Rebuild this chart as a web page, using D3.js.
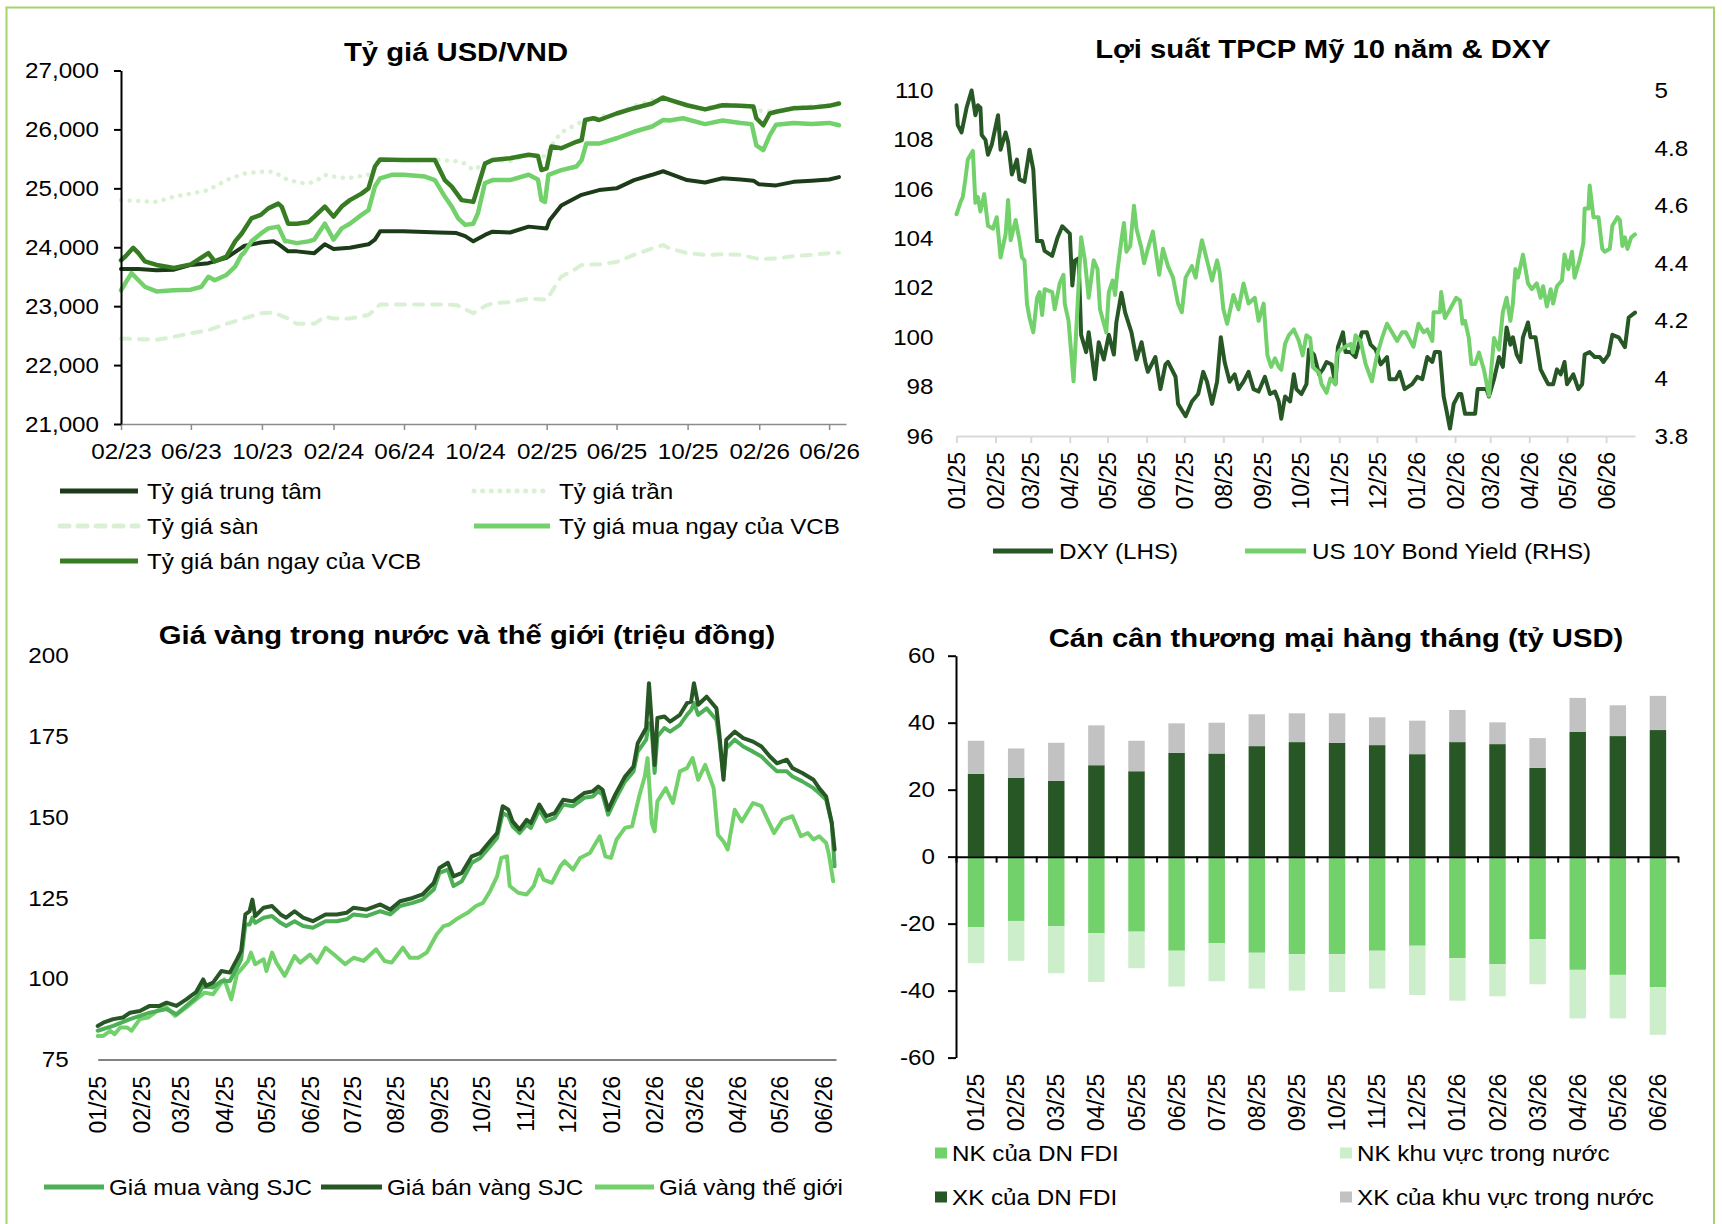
<!DOCTYPE html>
<html>
<head>
<meta charset="utf-8">
<script src="https://cdn.jsdelivr.net/npm/d3@7"></script>
<style>
body { margin: 0; background: #fff; }
svg text { font-family: "Liberation Sans", Arial, sans-serif; fill: #000; }
</style>
</head>
<body>
<svg id="chart" width="1722" height="1224"></svg>
<script>
// ---- data: [days since series start, value] ----
// USD/VND, days since 01/02/2023
const centralRate = [[0,23630],[30,23630],[61,23610],[91,23620],[120,23700],[150,23730],[181,23820],[211,24020],[240,24080],[262,24100],[271,24050],[287,23930],[302,23930],[332,23900],[350,24050],[365,23970],[393,23990],[425,24050],[436,24130],[445,24270],[454,24270],[485,24270],[546,24250],[576,24240],[591,24190],[605,24100],[625,24210],[638,24265],[668,24250],[700,24350],[731,24320],[736,24460],[756,24710],[791,24890],[821,24970],[851,25000],[881,25140],[912,25230],[931,25290],[942,25250],[972,25140],[1003,25100],[1033,25170],[1064,25150],[1086,25130],[1095,25070],[1125,25050],[1155,25110],[1186,25130],[1216,25150],[1233,25190]]
const ceilRate = [[0,24800],[61,24770],[91,24860],[120,24910],[150,24970],[181,25140],[211,25250],[240,25280],[262,25280],[287,25140],[316,25080],[333,25110],[350,25230],[365,25200],[390,25170],[425,25230],[436,25340],[445,25480],[485,25480],[546,25480],[576,25460],[591,25420],[605,25310],[625,25420],[638,25480],[668,25460],[700,25570],[731,25540],[736,25680],[756,25950],[791,26130],[821,26220],[851,26250],[881,26400],[912,26490],[931,26555],[942,26510],[972,26400],[1003,26355],[1033,26430],[1064,26410],[1095,26320],[1125,26300],[1155,26370],[1186,26390],[1216,26410],[1233,26450]]
const floorRate = [[0,22450],[61,22430],[91,22480],[120,22540],[150,22590],[181,22700],[211,22790],[240,22880],[262,22890],[287,22790],[302,22700],[332,22700],[350,22820],[365,22790],[393,22790],[425,22850],[445,23030],[485,23030],[546,23030],[576,23020],[605,22880],[625,23000],[638,23050],[668,23070],[700,23130],[731,23110],[756,23500],[782,23640],[791,23700],[821,23710],[851,23750],[881,23870],[912,23980],[931,24040],[942,23980],[972,23900],[1003,23870],[1033,23880],[1064,23870],[1095,23800],[1125,23810],[1155,23850],[1186,23870],[1216,23900],[1233,23910]]
const vcbBuy = [[0,23270],[18,23560],[30,23440],[41,23330],[61,23250],[91,23270],[120,23280],[138,23330],[150,23500],[161,23440],[181,23530],[196,23670],[207,23870],[211,23900],[224,24100],[240,24230],[253,24320],[270,24350],[282,24100],[287,24100],[302,24070],[322,24100],[332,24130],[350,24400],[365,24130],[379,24320],[393,24400],[413,24550],[425,24630],[436,25030],[445,25170],[465,25230],[485,25230],[522,25200],[539,25140],[556,24860],[568,24690],[579,24490],[591,24380],[605,24400],[613,24580],[625,25090],[638,25140],[668,25140],[700,25230],[716,25150],[722,24800],[728,24770],[734,25230],[756,25310],[782,25370],[791,25480],[799,25760],[821,25760],[851,25850],[881,25960],[912,26050],[931,26160],[942,26150],[965,26190],[1003,26090],[1033,26150],[1064,26110],[1083,26090],[1091,25730],[1103,25650],[1114,25900],[1125,26080],[1155,26110],[1186,26090],[1216,26110],[1233,26070]]
const vcbSell = [[0,23780],[7,23840],[21,23990],[30,23900],[41,23760],[61,23700],[91,23650],[120,23710],[150,23900],[161,23760],[181,23840],[196,24100],[207,24230],[211,24290],[224,24490],[240,24550],[253,24660],[270,24740],[276,24690],[282,24530],[287,24400],[302,24400],[322,24430],[332,24520],[350,24690],[365,24520],[379,24690],[393,24800],[413,24910],[425,25000],[436,25370],[445,25490],[485,25480],[539,25480],[556,25140],[568,25030],[585,24800],[605,24770],[613,25030],[625,25420],[638,25480],[668,25510],[700,25570],[716,25550],[722,25310],[731,25340],[739,25710],[756,25680],[782,25790],[791,25820],[797,26160],[811,26190],[821,26160],[851,26270],[881,26360],[912,26440],[931,26540],[942,26500],[972,26410],[1003,26340],[1033,26410],[1064,26400],[1086,26390],[1091,26190],[1103,26070],[1114,26270],[1125,26300],[1155,26360],[1186,26370],[1216,26400],[1233,26440]]
const rateTickLabels = ["02/23","06/23","10/23","02/24","06/24","10/24","02/25","06/25","10/25","02/26","06/26"]
const rateTicks = [21000,22000,23000,24000,25000,26000,27000]

// DXY & US 10Y, days since 01/01/2025
const dxy = [[0,109.4],[1,108.6],[4,108.3],[8,109.3],[12,110.0],[15,109.0],[17,109.4],[19,109.3],[20,108.2],[23,108.0],[25,107.4],[28,107.8],[33,109.0],[35,107.6],[39,108.3],[41,107.9],[44,106.6],[48,107.2],[50,106.4],[54,106.3],[58,107.6],[61,106.8],[64,103.9],[68,103.9],[70,103.5],[76,103.3],[80,104.0],[84,104.5],[88,104.3],[90,104.2],[92,102.1],[94,103.1],[97,103.2],[99,100.1],[103,99.4],[105,100.2],[110,98.3],[113,99.8],[117,99.1],[121,100.1],[125,99.3],[127,100.6],[131,101.8],[134,101.0],[139,100.2],[143,99.1],[147,99.8],[150,99.0],[152,98.6],[158,99.2],[162,97.9],[166,98.9],[168,99.0],[174,98.4],[176,97.3],[182,96.8],[187,97.4],[192,97.7],[196,98.6],[199,98.2],[203,97.3],[207,98.2],[210,100.0],[213,99.0],[217,98.2],[221,98.5],[224,97.9],[228,98.2],[232,98.6],[236,97.9],[240,97.8],[245,98.4],[249,97.7],[253,97.8],[256,97.4],[258,96.7],[261,97.6],[265,97.4],[268,98.5],[270,97.9],[274,97.7],[278,98.1],[280,99.5],[284,99.3],[288,98.5],[291,98.7],[294,99.0],[298,98.9],[301,98.1],[303,99.6],[307,100.2],[309,99.4],[313,99.4],[317,99.2],[319,99.6],[322,100.2],[326,100.2],[329,99.7],[333,99.5],[337,98.9],[342,99.2],[344,98.3],[349,98.3],[352,98.6],[356,97.9],[362,98.1],[366,98.4],[370,98.3],[374,99.2],[378,99.0],[380,99.4],[384,99.4],[387,97.6],[389,97.1],[392,96.3],[395,97.3],[399,97.7],[401,97.7],[404,96.9],[408,96.9],[412,96.9],[414,97.9],[417,97.9],[421,97.9],[423,97.6],[427,98.3],[431,99.2],[434,98.8],[437,100.4],[440,99.7],[442,100.0],[445,99.3],[448,99.0],[450,100.0],[454,100.6],[456,100.0],[460,100.0],[464,98.7],[468,98.3],[470,98.1],[474,98.1],[477,98.7],[480,98.5],[483,99.0],[485,98.1],[490,98.5],[494,97.9],[497,98.1],[499,99.3],[503,99.4],[507,99.2],[511,99.2],[514,99.0],[518,99.3],[521,100.1],[526,100.0],[531,99.6],[534,100.8],[539,101.0]]
const us10y = [[0,4.57],[3,4.61],[5,4.63],[7,4.69],[9,4.76],[13,4.79],[15,4.61],[17,4.63],[19,4.58],[22,4.64],[25,4.53],[29,4.52],[32,4.56],[35,4.42],[39,4.50],[41,4.62],[43,4.48],[47,4.55],[50,4.48],[52,4.42],[54,4.41],[56,4.26],[58,4.21],[61,4.16],[64,4.28],[66,4.30],[68,4.22],[70,4.31],[76,4.30],[78,4.24],[82,4.33],[85,4.36],[86,4.26],[89,4.20],[93,3.99],[96,4.24],[99,4.49],[102,4.41],[105,4.28],[109,4.41],[112,4.38],[114,4.24],[119,4.16],[121,4.30],[124,4.34],[126,4.29],[128,4.38],[131,4.48],[133,4.54],[135,4.44],[138,4.46],[141,4.60],[143,4.52],[147,4.45],[149,4.40],[152,4.45],[156,4.51],[161,4.36],[164,4.45],[168,4.39],[172,4.35],[176,4.26],[179,4.23],[182,4.35],[187,4.39],[190,4.35],[192,4.41],[195,4.48],[199,4.41],[203,4.34],[207,4.41],[209,4.37],[212,4.24],[215,4.19],[220,4.29],[224,4.24],[228,4.33],[232,4.26],[237,4.28],[240,4.20],[244,4.26],[247,4.08],[250,4.04],[253,4.07],[256,4.04],[258,4.03],[261,4.12],[264,4.15],[268,4.17],[272,4.13],[275,4.08],[278,4.15],[281,4.14],[283,4.04],[288,4.02],[290,3.98],[294,3.95],[297,4.00],[301,3.98],[302,4.08],[305,4.10],[309,4.11],[313,4.12],[315,4.09],[317,4.15],[321,4.13],[325,4.05],[330,3.99],[334,4.08],[338,4.14],[342,4.19],[346,4.16],[350,4.13],[354,4.16],[357,4.16],[363,4.11],[367,4.19],[371,4.16],[374,4.17],[378,4.13],[379,4.23],[384,4.23],[385,4.30],[388,4.21],[392,4.24],[397,4.28],[400,4.27],[402,4.19],[404,4.20],[407,4.14],[409,4.05],[412,4.05],[415,4.09],[419,4.03],[423,3.94],[427,4.14],[431,4.10],[434,4.23],[437,4.28],[440,4.20],[442,4.26],[444,4.38],[446,4.35],[450,4.43],[454,4.33],[457,4.31],[461,4.33],[464,4.28],[466,4.32],[469,4.25],[472,4.31],[474,4.26],[477,4.32],[481,4.34],[483,4.43],[486,4.38],[489,4.44],[491,4.35],[495,4.41],[498,4.47],[499,4.59],[502,4.59],[503,4.67],[506,4.56],[510,4.56],[513,4.45],[515,4.44],[519,4.45],[521,4.53],[525,4.56],[527,4.55],[529,4.46],[531,4.49],[533,4.45],[536,4.49],[539,4.50]]
const dxyTicks = [96,98,100,102,104,106,108,110]
const yieldTicks = [3.8,4,4.2,4.4,4.6,4.8,5]

// gold (million VND), days since 01/01/2025
const goldBuy = [[0,83.9],[11,85.4],[23,87.5],[37,89.5],[49,90.6],[56,89.0],[63,91.6],[70,94.2],[75,97.8],[82,97.3],[88,99.3],[94,99.3],[99,103.4],[102,106.0],[105,116.8],[108,116.8],[110,118.9],[112,117.3],[118,118.9],[124,119.4],[130,117.3],[134,116.3],[140,117.8],[146,116.3],[153,115.8],[162,117.8],[170,117.8],[177,118.4],[182,119.9],[191,119.4],[201,120.9],[208,119.9],[215,122.5],[224,123.5],[231,124.5],[239,127.6],[243,132.8],[249,133.8],[253,128.7],[259,130.2],[266,135.9],[272,137.4],[280,141.5],[284,143.6],[288,151.3],[292,150.3],[295,147.2],[300,145.1],[305,147.7],[308,146.7],[314,152.3],[319,148.7],[325,149.8],[331,153.9],[338,153.4],[346,156.0],[352,156.4],[356,158.0],[359,157.0],[363,150.8],[368,155.4],[375,161.1],[381,164.2],[384,170.3],[390,174.0],[392,179.1],[394,177.0],[396,163.7],[398,175.0],[403,177.6],[407,176.5],[414,178.6],[419,181.7],[422,183.2],[424,185.3],[427,181.7],[433,183.7],[440,180.1],[442,174.0],[445,162.6],[447,171.4],[453,174.0],[459,171.9],[466,170.3],[472,168.8],[478,166.2],[483,164.2],[490,164.2],[494,162.6],[501,161.1],[509,159.0],[513,157.5],[518,155.4],[522,148.2],[524,134.8]]
const goldSell = [[0,85.4],[4,86.4],[11,87.5],[18,88.0],[23,89.5],[30,90.0],[37,91.6],[44,91.6],[49,92.6],[56,91.6],[63,93.6],[70,95.9],[75,99.8],[77,97.8],[82,98.8],[88,102.4],[94,101.9],[99,106.0],[102,108.6],[105,119.9],[108,120.9],[110,124.5],[112,119.4],[118,122.0],[124,122.5],[130,119.9],[134,118.9],[140,120.9],[146,118.9],[153,117.8],[162,119.9],[170,119.9],[177,120.4],[182,122.0],[191,121.4],[201,123.0],[208,121.4],[215,124.0],[224,125.0],[231,126.1],[239,129.7],[243,134.3],[249,135.9],[253,131.7],[259,132.8],[266,137.9],[272,138.9],[280,143.1],[284,145.1],[288,153.4],[292,152.3],[295,148.7],[300,146.2],[305,149.2],[308,148.2],[314,153.9],[319,150.3],[325,151.3],[331,155.4],[338,154.9],[346,157.5],[352,158.0],[356,159.5],[359,158.5],[363,152.3],[368,157.0],[375,162.6],[381,165.7],[384,172.9],[390,177.6],[392,191.5],[394,179.1],[396,166.2],[398,180.7],[403,181.2],[407,179.6],[414,181.7],[419,185.3],[422,185.8],[424,191.5],[427,184.8],[433,187.3],[440,183.7],[442,176.0],[445,161.6],[447,174.0],[453,176.5],[459,174.5],[466,173.4],[472,171.9],[478,168.8],[483,166.7],[490,167.8],[494,165.2],[501,163.7],[509,161.6],[513,159.0],[518,156.4],[522,148.2],[524,140.0]]
const goldWorld = [[0,82.3],[4,82.3],[9,83.9],[12,82.8],[16,84.9],[21,84.9],[24,83.9],[30,87.5],[36,88.0],[42,90.0],[48,91.6],[55,88.5],[63,91.1],[70,93.6],[76,95.7],[82,95.2],[88,98.8],[90,99.8],[95,93.6],[99,101.4],[102,102.9],[107,105.5],[109,108.1],[112,104.5],[118,106.0],[120,102.4],[124,108.1],[127,105.0],[133,100.9],[140,107.0],[144,105.0],[151,107.5],[156,105.0],[162,109.6],[168,107.5],[176,104.5],[182,106.5],[189,105.5],[198,109.1],[204,105.5],[209,105.0],[217,109.6],[222,106.5],[228,106.5],[234,108.1],[241,113.7],[246,116.3],[250,116.8],[255,118.4],[263,120.4],[269,122.5],[274,123.5],[279,127.1],[284,131.7],[287,137.4],[291,137.9],[293,128.7],[299,126.6],[305,126.1],[310,128.7],[314,133.8],[317,130.7],[323,129.7],[329,134.8],[332,136.4],[338,133.8],[343,137.4],[350,138.9],[357,144.1],[361,137.9],[365,137.4],[369,143.1],[375,146.7],[380,147.2],[385,156.4],[389,162.6],[391,168.3],[394,148.2],[396,145.6],[398,154.9],[404,159.0],[409,154.4],[414,164.2],[419,165.2],[423,168.3],[427,161.6],[432,166.2],[438,159.0],[441,144.6],[445,142.5],[448,140.0],[453,152.3],[458,148.7],[466,154.4],[472,153.4],[477,148.7],[481,145.1],[487,149.2],[494,150.3],[500,144.1],[505,145.1],[509,143.1],[513,144.1],[518,142.0],[520,138.4],[523,130.2]]
const goldTicks = [75,100,125,150,175,200]

// monthly trade (bn USD)
const months = ["01/25","02/25","03/25","04/25","05/25","06/25","07/25","08/25","09/25","10/25","11/25","12/25","01/26","02/26","03/26","04/26","05/26","06/26"]
const xkFdi = [24.7,23.5,22.6,27.3,25.5,31.0,30.8,33.0,34.2,34.0,33.3,30.6,34.2,33.6,26.5,37.3,36.0,37.8]
const xkDom = [9.9,8.8,11.4,11.9,9.1,8.8,9.2,9.5,8.6,8.8,8.3,10.0,9.6,6.5,8.9,10.1,9.2,10.2]
const nkFdi = [-21.0,-19.2,-20.8,-22.9,-22.4,-28.1,-25.9,-28.7,-29.1,-29.1,-28.1,-26.6,-30.3,-32.1,-24.6,-33.8,-35.3,-39.0]
const nkDom = [-10.8,-11.9,-14.0,-14.5,-10.9,-10.7,-11.3,-10.7,-10.9,-11.3,-11.3,-14.7,-12.7,-9.6,-13.5,-14.5,-13.0,-14.2]
const tradeTicks = [-60,-40,-20,0,20,40,60]

// ---- style ----
const DARKEST = '#1c3b19'
const DARK = '#285726'
const MID = '#377b22'
const GOLD_BUY = '#4db057'
const LIGHT = '#72d16b'
const PALE = '#d9f1d3'
const GRAY = '#c2c2c2'
const PALE_BAR = '#cdeeca'
const SX = 1.1      // source image is a little stretched sideways
const SX_T = 1.17
const FONT = 22

const base23 = new Date(Date.UTC(2023, 1, 1))
const base25 = new Date(Date.UTC(2025, 0, 1))
const parseMonth = d3.utcParse('%m/%y')

const svg = d3.select('#chart')
svg.append('rect').attr('width', 1722).attr('height', 1224).attr('fill', '#fff')

function txt (g, x, y, s, size, opt = {}) {
    return g.append('text')
        .attr('transform', `translate(${x},${y}) scale(${opt.sx || SX},1)`)
        .attr('dy', '0.35em')
        .attr('font-size', size)
        .attr('font-weight', opt.bold ? 'bold' : null)
        .attr('text-anchor', opt.anchor || 'start')
        .text(s)
}

function styleAxis (g, color, width) {
    g.attr('font-size', FONT).attr('font-family', null).attr('color', color)
    g.selectAll('path, line').attr('stroke-width', width)
    g.selectAll('text').attr('fill', '#000')
}

function stretchTicks (g, sx) {
    g.selectAll('.tick text').each(function () {
        const t = d3.select(this)
        const x = +t.attr('x') || 0, y = +t.attr('y') || 0
        t.attr('x', null).attr('y', null).attr('transform', `translate(${x},${y}) scale(${sx},1)`)
    })
}

function rotateTicks (g, offset) {
    g.selectAll('.tick text')
        .attr('transform', 'rotate(-90)')
        .attr('text-anchor', 'end')
        .attr('x', -offset).attr('y', 0).attr('dy', '0.35em')
        .attr('font-size', 23)
}

function lineFor (x, y, base) {
    return d3.line()
        .x(d => x(d3.utcDay.offset(base, d[0])))
        .y(d => y(d[1]))
}

function drawSeries (g, gen, s) {
    g.append('path')
        .datum(s.data)
        .attr('fill', 'none')
        .attr('stroke', s.color)
        .attr('stroke-width', s.width)
        .attr('stroke-linejoin', 'round')
        .attr('stroke-linecap', 'round')
        .attr('stroke-dasharray', s.dash || null)
        .attr('d', gen)
}

function legendLine (g, x1, x2, y, s, label, tx) {
    g.append('line').attr('x1', x1).attr('x2', x2).attr('y1', y).attr('y2', y)
        .attr('stroke', s.color).attr('stroke-width', s.legendWidth || 5)
        .attr('stroke-linecap', s.dash ? 'round' : 'butt')
        .attr('stroke-dasharray', s.dash || null)
    txt(g, tx, y, label, FONT)
}

// frame
svg.append('path')
    .attr('d', 'M6.5,1230 V7.5 H1714 V1230')
    .attr('fill', 'none').attr('stroke', '#a5d46d').attr('stroke-width', 2)

// ---------- panel 1: USD/VND ----------
{
    const g = svg.append('g')
    const x = d3.scaleUtc().domain([base23, d3.utcDay.offset(base23, 1245)]).range([121, 846])
    const y = d3.scaleLinear().domain([21000, 27000]).range([424, 70.5])

    txt(g, 456, 52, 'Tỷ giá USD/VND', 25, { bold: true, anchor: 'middle', sx: SX_T })

    const gx = g.append('g').attr('transform', 'translate(0,424)')
        .call(d3.axisBottom(x).tickValues(rateTickLabels.map(parseMonth)).tickFormat(d3.utcFormat('%m/%y')).tickSize(6).tickSizeOuter(0))
    styleAxis(gx, '#8c8c8c', 1.5)
    gx.selectAll('.tick text').attr('y', 27).attr('dy', '0.35em')
    stretchTicks(gx, SX)

    const series = [
        { name: 'Tỷ giá sàn', data: floorRate, color: PALE, width: 4, dash: '9 9' },
        { name: 'Tỷ giá trần', data: ceilRate, color: PALE, width: 4.5, dash: '0.1 8.5' },
        { name: 'Tỷ giá trung tâm', data: centralRate, color: DARKEST, width: 4 },
        { name: 'Tỷ giá mua ngay của VCB', data: vcbBuy, color: LIGHT, width: 4.5 },
        { name: 'Tỷ giá bán ngay của VCB', data: vcbSell, color: MID, width: 4.5 }
    ]
    const gen = lineFor(x, y, base23)
    series.forEach(s => drawSeries(g, gen, s))

    // y axis on top of the series so the black line stays visible
    const gy = g.append('g').attr('transform', 'translate(121,0)')
        .call(d3.axisLeft(y).tickValues(rateTicks).tickFormat(d3.format(',')).tickSize(7).tickSizeOuter(0).tickPadding(15))
    styleAxis(gy, '#000', 2)
    stretchTicks(gy, SX)

    const lg = g.append('g')
    legendLine(lg, 60, 138, 491, series[2], series[2].name, 147)
    legendLine(lg, 474, 550, 491, series[1], series[1].name, 559)
    legendLine(lg, 60, 138, 526, series[0], series[0].name, 147)
    legendLine(lg, 474, 550, 526, series[3], series[3].name, 559)
    legendLine(lg, 60, 138, 561, series[4], series[4].name, 147)
}

// ---------- panel 2: US 10Y & DXY ----------
{
    const g = svg.append('g')
    const x = d3.scaleUtc().domain([base25, d3.utcDay.offset(base25, 539)]).range([956.5, 1635])
    const yL = d3.scaleLinear().domain([96, 110]).range([436, 90.5])
    const yR = d3.scaleLinear().domain([3.8, 5]).range([436, 90.5])

    txt(g, 1323, 49, 'Lợi suất TPCP Mỹ 10 năm & DXY', 25, { bold: true, anchor: 'middle', sx: SX_T })

    const gl = g.append('g').attr('transform', 'translate(956.5,0)')
        .call(d3.axisLeft(yL).tickValues(dxyTicks).tickSize(0).tickPadding(23))
    styleAxis(gl, '#000', 0)
    gl.select('.domain').remove()
    stretchTicks(gl, SX)

    const gr = g.append('g').attr('transform', 'translate(1635,0)')
        .call(d3.axisRight(yR).tickValues(yieldTicks).tickFormat(d => String(d)).tickSize(0).tickPadding(19.5))
    styleAxis(gr, '#000', 0)
    gr.select('.domain').remove()
    stretchTicks(gr, SX)

    const gx = g.append('g').attr('transform', 'translate(0,436)')
        .call(d3.axisBottom(x).tickValues(months.map(parseMonth)).tickFormat(d3.utcFormat('%m/%y')).tickSize(7).tickSizeOuter(0))
    styleAxis(gx, '#d9d9d9', 2)
    rotateTicks(gx, 16)

    const sDxy = { data: dxy, color: DARK, width: 4 }
    const sYield = { data: us10y, color: LIGHT, width: 4 }
    drawSeries(g, lineFor(x, yL, base25), sDxy)
    drawSeries(g, lineFor(x, yR, base25), sYield)

    legendLine(g, 993, 1053, 551, sDxy, 'DXY (LHS)', 1059)
    legendLine(g, 1245, 1306, 551, sYield, 'US 10Y Bond Yield (RHS)', 1312)
}

// ---------- panel 3: gold ----------
{
    const g = svg.append('g')
    const x = d3.scaleUtc().domain([base25, d3.utcDay.offset(base25, 525)]).range([97.7, 836])
    const y = d3.scaleLinear().domain([75, 200]).range([1059.5, 655.7])

    txt(g, 467, 635, 'Giá vàng trong nước và thế giới (triệu đồng)', 25, { bold: true, anchor: 'middle', sx: SX_T })

    const gy = g.append('g').attr('transform', 'translate(96,0)')
        .call(d3.axisLeft(y).tickValues(goldTicks).tickSize(0).tickPadding(27.4))
    styleAxis(gy, '#000', 0)
    gy.select('.domain').remove()
    stretchTicks(gy, SX)

    const gx = g.append('g').attr('transform', 'translate(0,1059.5)')
        .call(d3.axisBottom(x).tickValues(months.map(parseMonth)).tickFormat(d3.utcFormat('%m/%y')).tickSize(0).tickSizeOuter(0))
    styleAxis(gx, '#595959', 1.5)
    rotateTicks(gx, 16.5)

    const sBuy = { data: goldBuy, color: GOLD_BUY, width: 4 }
    const sSell = { data: goldSell, color: DARK, width: 4 }
    const sWorld = { data: goldWorld, color: LIGHT, width: 4 }
    const gen = lineFor(x, y, base25)
    drawSeries(g, gen, sWorld)
    drawSeries(g, gen, sBuy)
    drawSeries(g, gen, sSell)

    legendLine(g, 44, 104, 1187, sBuy, 'Giá mua vàng SJC', 109)
    legendLine(g, 321, 382, 1187, sSell, 'Giá bán vàng SJC', 387)
    legendLine(g, 595, 654, 1187, sWorld, 'Giá vàng thế giới', 659)
}

// ---------- panel 4: trade balance ----------
{
    const g = svg.append('g')
    const x = d3.scaleBand().domain(months).range([956, 1678]).paddingInner(0.59).paddingOuter(0.295)
    const y = d3.scaleLinear().domain([-60, 60]).range([1057.6, 655.7])

    txt(g, 1336, 638, 'Cán cân thương mại hàng tháng (tỷ USD)', 25, { bold: true, anchor: 'middle', sx: SX_T })

    const keys = ['xkFdi', 'xkDom', 'nkFdi', 'nkDom']
    const colors = { xkFdi: DARK, xkDom: GRAY, nkFdi: LIGHT, nkDom: PALE_BAR }
    const rows = months.map((m, i) => ({ month: m, xkFdi: xkFdi[i], xkDom: xkDom[i], nkFdi: nkFdi[i], nkDom: nkDom[i] }))
    const stacked = d3.stack().keys(keys).offset(d3.stackOffsetDiverging)(rows)

    g.append('g').selectAll('g')
        .data(stacked)
        .join('g')
            .attr('fill', s => colors[s.key])
        .selectAll('rect')
        .data(s => s)
        .join('rect')
            .attr('x', d => x(d.data.month))
            .attr('width', x.bandwidth())
            .attr('y', d => y(Math.max(d[0], d[1])))
            .attr('height', d => Math.abs(y(d[0]) - y(d[1])))

    const gy = g.append('g').attr('transform', 'translate(956,0)')
        .call(d3.axisLeft(y).tickValues(tradeTicks).tickFormat(d => String(d)).tickSize(8).tickSizeOuter(0).tickPadding(13))
    styleAxis(gy, '#000', 2)
    stretchTicks(gy, SX)

    const bounds = d3.scaleLinear().domain([0, months.length]).range([956, 1678])
    const g0 = g.append('g').attr('transform', `translate(0,${y(0)})`)
        .call(d3.axisBottom(bounds).tickValues(d3.range(months.length + 1)).tickFormat('').tickSize(6).tickSizeOuter(0))
    styleAxis(g0, '#000', 2)

    const gl = g.append('g').attr('transform', 'translate(0,1057.6)')
        .call(d3.axisBottom(x).tickSize(0))
    styleAxis(gl, '#000', 0)
    gl.select('.domain').remove()
    rotateTicks(gl, 16)

    const items = [
        { key: 'nkFdi', label: 'NK của DN FDI', x: 935, y: 1153 },
        { key: 'nkDom', label: 'NK khu vực trong nước', x: 1340, y: 1153 },
        { key: 'xkFdi', label: 'XK của DN FDI', x: 935, y: 1197 },
        { key: 'xkDom', label: 'XK của khu vực trong nước', x: 1340, y: 1197 }
    ]
    items.forEach(it => {
        g.append('rect').attr('x', it.x).attr('y', it.y - 5.5).attr('width', 12).attr('height', 11).attr('fill', colors[it.key])
        txt(g, it.x + 17, it.y, it.label, FONT)
    })
}
</script>
</body>
</html>
